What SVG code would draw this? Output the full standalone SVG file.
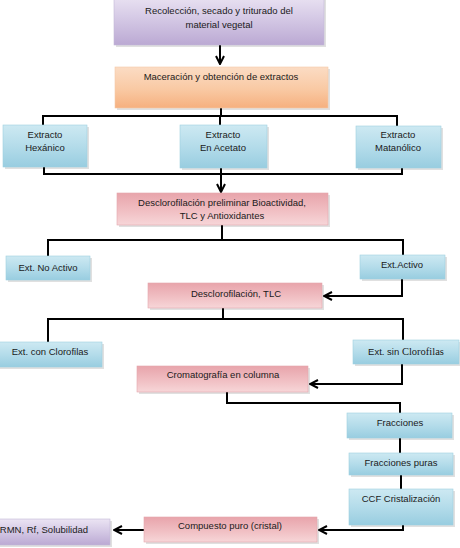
<svg xmlns="http://www.w3.org/2000/svg" width="460" height="548" viewBox="0 0 460 548">
<style>
text{font-family:"Liberation Sans",Arial,sans-serif;font-size:9.5px;fill:#1a1a1a;text-anchor:middle}
.serif{font-family:"Liberation Serif","Times New Roman",serif;font-size:10.5px}
.c{fill:none;stroke:#000;stroke-width:2}
.sh{fill:#000;opacity:0.12}
.purple{fill:url(#gPurple);stroke:#c4b8d8;stroke-width:0.6}
.orange{fill:url(#gOrange);stroke:#f3c9a8;stroke-width:0.6}
.blue{fill:url(#gBlue);stroke:#9fcfdf;stroke-width:0.6}
.pink{fill:url(#gPink);stroke:#e3a7ad;stroke-width:0.6}
</style>
<defs>
<linearGradient id="gPurple" x1="0" y1="0" x2="0" y2="1"><stop offset="0" stop-color="#ebe4f3"/><stop offset="0.5" stop-color="#d3c7e4"/><stop offset="1" stop-color="#bba9d3"/></linearGradient>
<linearGradient id="gOrange" x1="0" y1="0" x2="0" y2="1"><stop offset="0" stop-color="#fbdcc4"/><stop offset="0.55" stop-color="#f9c9a3"/><stop offset="1" stop-color="#f6b07f"/></linearGradient>
<linearGradient id="gBlue" x1="0" y1="0" x2="0" y2="1"><stop offset="0" stop-color="#cde9f2"/><stop offset="0.5" stop-color="#b4dcea"/><stop offset="1" stop-color="#98cde0"/></linearGradient>
<linearGradient id="gPink" x1="0" y1="0" x2="0" y2="1"><stop offset="0" stop-color="#e8a4ab"/><stop offset="0.6" stop-color="#f1c1c5"/><stop offset="1" stop-color="#f7d6d8"/></linearGradient>
<marker id="arr" viewBox="0 0 10 10" refX="9" refY="5" markerWidth="5" markerHeight="5" orient="auto" markerUnits="strokeWidth"><path d="M1,1 L9,5 L1,9" fill="none" stroke="#000" stroke-width="2"/></marker>
</defs>
<rect width="460" height="548" fill="#fff"/>

<g id="connectors">
<path class="c" d="M220,45 V64" marker-end="url(#arr)"/>
<path class="c" d="M221,108 V116 M43,125 V116 H397 V126 M220,116 V125"/>
<path class="c" d="M44,167 V174 H402 V168 M221,168 V174"/>
<path class="c" d="M221,174 V192" marker-end="url(#arr)"/>
<path class="c" d="M222,225 V240 M48,256 V240 H403 V255"/>
<path class="c" d="M402,279 V296 H324" marker-end="url(#arr)"/>
<path class="c" d="M223,308 V319 M48,342 V319 H403 V340"/>
<path class="c" d="M402,364 V384 H310" marker-end="url(#arr)"/>
<path class="c" d="M227,392 V403 H400 V413"/>
<path class="c" d="M400,438 V453 M401,475 V489"/>
<path class="c" d="M403,525 V530 H319" marker-end="url(#arr)"/>
<path class="c" d="M144,530 H114" marker-end="url(#arr)"/>
</g>

<g id="n1"><rect class="sh" x="116" y="-3" width="210" height="50"/><rect class="purple" x="114" y="-5" width="210" height="50"/><text x="219" y="14">Recolección, secado y triturado  del</text><text x="219" y="28">material vegetal</text></g>
<g id="n2"><rect class="sh" x="117" y="69" width="213" height="41"/><rect class="orange" x="115" y="67" width="213" height="41"/><text x="221" y="80">Maceración y obtención de extractos</text></g>
<g id="n3"><rect class="sh" x="5" y="127" width="84" height="42"/><rect class="blue" x="3" y="125" width="84" height="42"/><text x="45" y="138">Extracto</text><text x="45" y="151">Hexánico</text></g>
<g id="n4"><rect class="sh" x="182" y="127" width="87" height="43"/><rect class="blue" x="180" y="125" width="87" height="43"/><text x="223" y="138">Extracto</text><text x="223" y="151">En Acetato</text></g>
<g id="n5"><rect class="sh" x="358" y="128" width="85" height="42"/><rect class="blue" x="356" y="126" width="85" height="42"/><text x="398" y="138">Extracto</text><text x="398" y="151">Matanólico</text></g>
<g id="n6"><rect class="sh" x="119" y="195" width="211" height="32"/><rect class="pink" x="117" y="193" width="211" height="32"/><text x="222" y="206">Desclorofilación preliminar Bioactividad,</text><text x="222" y="219">TLC y Antioxidantes</text></g>
<g id="n7"><rect class="sh" x="8" y="258" width="84" height="24"/><rect class="blue" x="6" y="256" width="84" height="24"/><text x="48" y="271">Ext. No Activo</text></g>
<g id="n8"><rect class="sh" x="362" y="257" width="85" height="24"/><rect class="blue" x="360" y="255" width="85" height="24"/><text x="402" y="268">Ext.Activo</text></g>
<g id="n9"><rect class="sh" x="150" y="285" width="174" height="25"/><rect class="pink" x="148" y="283" width="174" height="25"/><text x="236" y="297">Desclorofilación, TLC</text></g>
<g id="n10"><rect class="sh" x="-2" y="344" width="106" height="25"/><rect class="blue" x="-4" y="342" width="106" height="25"/><text x="50" y="355">Ext. con Clorofilas</text></g>
<g id="n11"><rect class="sh" x="355" y="342" width="106" height="24"/><rect class="blue" x="353" y="340" width="106" height="24"/><text x="406" y="355">Ext. sin  <tspan class="serif">Clorofilas</tspan></text></g>
<g id="n12"><rect class="sh" x="139" y="368" width="171" height="26"/><rect class="pink" x="137" y="366" width="171" height="26"/><text x="223" y="378">Cromatografía en columna</text></g>
<g id="n13"><rect class="sh" x="349" y="415" width="105" height="25"/><rect class="blue" x="347" y="413" width="105" height="25"/><text x="400" y="426">Fracciones</text></g>
<g id="n14"><rect class="sh" x="351" y="455" width="104" height="22"/><rect class="blue" x="349" y="453" width="104" height="22"/><text x="401" y="466">Fracciones puras</text></g>
<g id="n15"><rect class="sh" x="351" y="491" width="104" height="36"/><rect class="blue" x="349" y="489" width="104" height="36"/><text x="401" y="502">CCF Cristalización</text></g>
<g id="n16"><rect class="sh" x="146" y="519" width="173" height="25"/><rect class="pink" x="144" y="517" width="173" height="25"/><text x="230" y="529">Compuesto puro (cristal)</text></g>
<g id="n17"><rect class="sh" x="-8" y="521" width="120" height="26"/><rect class="purple" x="-10" y="519" width="120" height="26"/><text x="88" y="533" style="text-anchor:end">RMN, Rf, Solubilidad</text></g>
</svg>
